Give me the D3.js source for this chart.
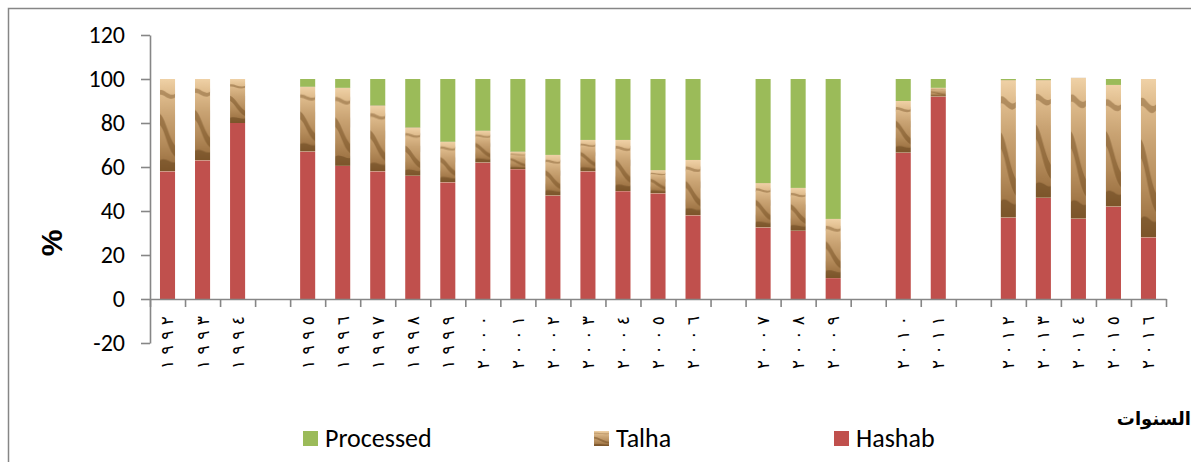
<!DOCTYPE html>
<html>
<head>
<meta charset="utf-8">
<script src="https://cdn.jsdelivr.net/npm/d3@7"></script>
<style>
  html, body { margin: 0; padding: 0; background: #fff; }
  svg { display: block; }
  .lat { font-family: Carlito, "Open Sans", Lato, sans-serif; }
</style>
</head>
<body>
<svg id="chart" width="1191" height="462"></svg>
<script>
// ---- Data ----
const categories = ["١٩٩٢","١٩٩٣","١٩٩٤","",
  "١٩٩٥","١٩٩٦","١٩٩٧","١٩٩٨","١٩٩٩","٢٠٠٠","٢٠٠١","٢٠٠٢","٢٠٠٣","٢٠٠٤","٢٠٠٥","٢٠٠٦","",
  "٢٠٠٧","٢٠٠٨","٢٠٠٩","",
  "٢٠١٠","٢٠١١","",
  "٢٠١٢","٢٠١٣","٢٠١٤","٢٠١٥","٢٠١٦"];
const hashab = [58, 63, 80, null,
  67, 60.5, 58, 56, 53, 62, 59, 47, 58, 49, 48, 38, null,
  32.5, 31, 9.5, null,
  66.5, 92, null,
  37, 46, 36.5, 42, 28];
const talha = [42, 37, 20, null,
  29.5, 35.5, 30, 22, 18.5, 14.5, 8, 18.5, 14.3, 23.3, 10.6, 25.2, null,
  20.2, 19.5, 26.9, null,
  23.5, 4, null,
  62.5, 53.5, 64, 55.3, 72];
const processed = [0, 0, 0, null,
  3.5, 4, 12, 22, 28.5, 23.5, 33, 34.5, 27.7, 27.7, 41.4, 36.8, null,
  47.3, 49.5, 63.6, null,
  10, 4, null,
  0.5, 0.5, 0, 2.7, 0];
const seriesNames = ["Processed", "Talha", "Hashab"];
const yTicks = [-20, 0, 20, 40, 60, 80, 100, 120];
const yLabel = "%";
const xTitle = "السنوات";

// ---- Setup ----
const svg = d3.select("#chart");
const colors = { Hashab: "#C0504D", Processed: "#9BBB59", Talha: "url(#talhaTex)" };

// Talha texture (sand-like)
const defs = svg.append("defs");
const g1 = defs.append("linearGradient").attr("id", "talhaGrad")
  .attr("x1", 0).attr("y1", 0).attr("x2", 0).attr("y2", 1);
[[0, "#efd1a6"], [0.15, "#e0bd8e"], [0.4, "#c9a373"], [0.7, "#b48b5a"], [1, "#94693a"]]
  .forEach(([o, c]) => g1.append("stop").attr("offset", o).attr("stop-color", c));
const pat = defs.append("pattern").attr("id", "talhaTex")
  .attr("patternUnits", "objectBoundingBox").attr("patternContentUnits", "objectBoundingBox")
  .attr("width", 1).attr("height", 1);
pat.append("rect").attr("width", 1).attr("height", 1).attr("fill", "url(#talhaGrad)");
pat.append("path").attr("d", "M0,0.12 C0.3,0.1 0.6,0.2 1,0.16 L1,0.2 C0.6,0.25 0.3,0.16 0,0.17 Z")
  .attr("fill", "#7a5428").attr("opacity", 0.45);
pat.append("path").attr("d", "M0,0.38 C0.35,0.42 0.55,0.62 1,0.72 L1,0.84 C0.5,0.76 0.35,0.56 0,0.5 Z")
  .attr("fill", "#6a4519").attr("opacity", 0.45);
pat.append("path").attr("d", "M0,0.88 C0.4,0.84 0.7,0.92 1,0.9 L1,1 L0,1 Z")
  .attr("fill", "#5e3d17").attr("opacity", 0.45);

// Outer frame
svg.append("rect").attr("x", 8.5).attr("y", 8.5).attr("width", 1300).attr("height", 600)
  .attr("fill", "none").attr("stroke", "#868686").attr("stroke-width", 1.5);

const n = categories.length;
const x0 = 150, x1 = 1166;
const x = d3.scaleBand().domain(d3.range(n)).range([x0, x1])
  .paddingInner(0.57).paddingOuter(0.285);
const xb = d3.scaleLinear().domain([0, n]).range([x0, x1]);
const y = d3.scaleLinear().domain([-20, 120]).range([343, 35]);

// Stack
const rows = categories.map((c, i) => ({
  i, Hashab: hashab[i] || 0, Talha: talha[i] || 0, Processed: processed[i] || 0,
  gap: hashab[i] === null
}));
const stack = d3.stack().keys(["Hashab", "Talha", "Processed"])(rows);

const barsG = svg.append("g");
stack.forEach(layer => {
  barsG.append("g").attr("fill", colors[layer.key])
    .selectAll("rect")
    .data(layer.filter(d => !d.data.gap && d[1] - d[0] > 0))
    .join("rect")
    .attr("x", d => x(d.data.i))
    .attr("width", x.bandwidth())
    .attr("y", d => y(d[1]))
    .attr("height", d => y(d[0]) - y(d[1]));
});

// Y axis
const yAxis = svg.append("g").attr("transform", `translate(${x0},0)`)
  .call(d3.axisLeft(y).tickValues(yTicks).tickSize(9).tickSizeOuter(0).tickPadding(16));
yAxis.select(".domain").attr("stroke", "#868686").attr("stroke-width", 1.6);
yAxis.selectAll(".tick line").attr("stroke", "#868686").attr("stroke-width", 1.6);
yAxis.selectAll(".tick text").attr("class", "lat").attr("font-size", 24).attr("fill", "#000")
  .text(d => d < 0 ? "-" + Math.abs(d) : d);

// X axis (tick marks between categories)
const xAxis = svg.append("g").attr("transform", `translate(0,${y(0)})`)
  .call(d3.axisBottom(xb).tickValues(d3.range(n + 1)).tickSize(8).tickSizeOuter(0).tickFormat(""));
xAxis.select(".domain").attr("stroke", "#868686").attr("stroke-width", 1.6);
xAxis.selectAll(".tick line").attr("stroke", "#868686").attr("stroke-width", 1.6);

// Category labels (rotated)
svg.append("g").selectAll("text")
  .data(categories.map((c, i) => ({ c, i })).filter(d => d.c !== ""))
  .join("text")
  .attr("transform", d => `translate(${x(d.i) + x.bandwidth() / 2},316) rotate(-90)`)
  .attr("text-anchor", "end")
  .attr("dy", "0.35em")
  .attr("font-family", "'DejaVu Sans', sans-serif")
  .attr("font-size", 17)
  .attr("textLength", 53)
  .attr("lengthAdjust", "spacing")
  .attr("fill", "#000")
  .text(d => d.c);

// Y axis label
svg.append("text")
  .attr("transform", "translate(62,243) rotate(-90)")
  .attr("text-anchor", "middle")
  .attr("font-family", "'Liberation Sans', Arial, sans-serif")
  .attr("font-weight", "bold")
  .attr("font-size", 30)
  .attr("fill", "#000")
  .text(yLabel);

// X title (Arabic)
svg.append("text")
  .attr("x", 1191).attr("y", 425)
  .attr("text-anchor", "end")
  .attr("font-family", "'DejaVu Sans', sans-serif")
  .attr("font-weight", "bold")
  .attr("font-size", 18)
  .attr("fill", "#000")
  .text(xTitle);

// Legend
const legendX = { Processed: 303, Talha: 594, Hashab: 834 };
const lg = svg.append("g").selectAll("g").data(seriesNames).join("g")
  .attr("transform", d => `translate(${legendX[d]},431)`);
lg.append("rect").attr("width", 15).attr("height", 15).attr("fill", d => colors[d]);
lg.append("text").attr("class", "lat").attr("x", 22).attr("y", 16)
  .attr("font-size", 26).attr("fill", "#000").text(d => d);
</script>
</body>
</html>
